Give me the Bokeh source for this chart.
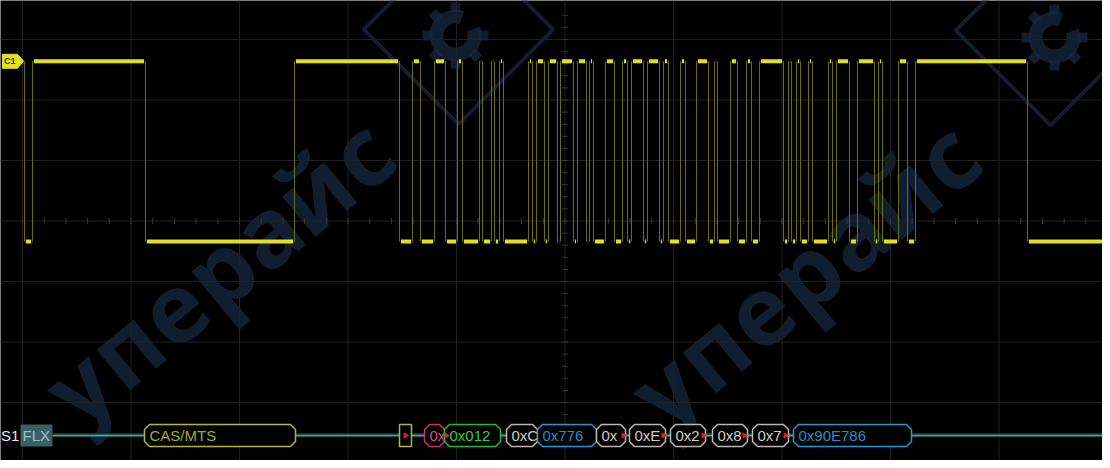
import numpy as np
from bokeh.plotting import figure
from bokeh.models import Range1d
from bokeh.core.properties import value
from bokeh.embed import file_html
from bokeh.resources import INLINE

# ---------------- data ----------------
# Oscilloscope capture of a FlexRay frame. x: sample index, y: volts (1 V/div)
EDGE_SAMPLES = [32, 40, 153, 302, 407, 420, 428, 442, 453, 465, 470, 487, 490, 499,
                502, 507, 511, 536, 540, 544, 552, 556, 565, 568, 581, 585, 594, 597,
                601, 613, 622, 630, 635, 639, 651, 655, 667, 671, 676, 688, 693, 704,
                716, 722, 725, 738, 745, 754, 759, 767, 791, 796, 799, 804, 808, 816,
                820, 836, 840, 844, 857, 865, 882, 886, 890, 906, 915, 923, 1035]
START_SAMPLE = 30
END_SAMPLE = 1110
INITIAL_LEVEL = 1          # 1 = high, 0 = low
HIGH_V = 2.64
LOW_V = -0.34

# decoded FlexRay fields
DEC_LABELS = ["CAS/MTS", "", "0x", "0x012", "0xC", "0x776", "0x", "0xE", "0x2",
              "0x8", "0x7", "0x90E786"]
DEC_START = [152, 407, 432, 452, 514, 545, 604, 637, 678, 720, 760, 801]
DEC_END = [303, 419, 452, 508, 545, 604, 633, 673, 713, 755, 796, 919]
DEC_KIND = ["cas", "tss", "ind", "id", "len", "hcrc", "data", "data", "data",
            "data", "data", "fcrc"]
DEC_MARKS = [413, 454, 631, 671, 711, 752, 793]
CHANNEL_LABEL = "S1"
PROTOCOL_LABEL = "FLX"
SCOPE_CHANNEL = "C1"
WATERMARK = "уперайс"

# ---------------- display geometry / styles ----------------
W, H = 1102, 460
X0, X1 = 8, 1110
PX_PER_V = 60.5
Y_TOP = (228.5 - 8) / PX_PER_V
Y_BOT = (228.5 - 468) / PX_PER_V
DIV = 108.5
GRID_X0 = 30
CENTER_X = GRID_X0 + 5 * DIV


def vpx(px):
    return (228.5 - px) / PX_PER_V


ROW_V = vpx(443)
BOX_H = 11 / PX_PER_V
CH = 5
CHV = 5 / PX_PER_V

p = figure(width=W, height=H, output_backend="svg", toolbar_location=None,
           x_range=Range1d(X0, X1), y_range=Range1d(Y_BOT, Y_TOP),
           background_fill_color="black", border_fill_color="black",
           min_border=0, outline_line_color=None)
p.axis.visible = False
p.grid.visible = False

# ---- watermark (behind everything), laid out letter by letter ----
WM_COL = "#172840"
WM_A = 0.75
WM_ANG = 0.69
STEP = 61
for cx, cy in [(226, 276), (812, 279)]:
    n = len(WATERMARK)
    k = np.arange(n) - 3
    lx = cx + k * STEP * np.cos(WM_ANG)
    ly = cy - k * STEP * np.sin(WM_ANG)
    p.text(x=lx, y=[vpx(v) for v in ly], text=list(WATERMARK), angle=WM_ANG,
           text_font=value("Open Sans"), text_font_style="bold",
           text_font_size="96px", text_color=WM_COL, text_alpha=WM_A,
           text_align="center", text_baseline="middle")
for gx, gy, dx, dy in [(463, 43, 466, 37), (1062, 45, 1058, 38)]:
    p.rect(x=[dx], y=[vpx(dy)], width=134, height=134, angle=np.pi / 4,
           width_units="screen", height_units="screen", fill_alpha=0,
           line_color=WM_COL, line_width=4, line_alpha=WM_A)
    p.annular_wedge(x=[gx], y=[vpx(gy)], inner_radius=12, outer_radius=26,
                    inner_radius_units="screen", outer_radius_units="screen",
                    start_angle=np.deg2rad(70), end_angle=np.deg2rad(20),
                    fill_color=WM_COL, fill_alpha=WM_A, line_alpha=0)
    ang = np.deg2rad(np.arange(90, 360 + 90, 45))
    ang = ang[(np.rad2deg(ang) % 360 > 75) | (np.rad2deg(ang) % 360 < 15)]
    tx = gx + 28 * np.cos(ang)
    ty = gy - 28 * np.sin(ang)
    p.rect(x=tx, y=[vpx(t) for t in ty], width=10, height=10, angle=ang,
           width_units="screen", height_units="screen",
           fill_color=WM_COL, fill_alpha=WM_A, line_alpha=0)

# ---- graticule ----
GRID_COL = "#202020"
vx = [GRID_X0 + k * DIV for k in range(10)]
p.segment(x0=vx, y0=[Y_BOT] * len(vx), x1=vx, y1=[Y_TOP] * len(vx),
          line_color=GRID_COL, line_width=1)
hv = list(range(-3, 4))
p.segment(x0=[X0] * len(hv), y0=hv, x1=[X1] * len(hv), y1=hv,
          line_color=GRID_COL, line_width=1)
tick_x = np.arange(GRID_X0, X1, DIV / 5)
p.segment(x0=tick_x, y0=[-3 / PX_PER_V] * len(tick_x), x1=tick_x,
          y1=[3 / PX_PER_V] * len(tick_x), line_color="#363636", line_width=1)
tick_y = np.arange(-3.6, 3.6, 0.2)
p.segment(x0=[CENTER_X - 3] * len(tick_y), y0=tick_y, x1=[CENTER_X + 3] * len(tick_y),
          y1=tick_y, line_color="#363636", line_width=1)

# ---- waveform ----
edges = np.array(EDGE_SAMPLES, dtype=float)
bounds = np.concatenate([[START_SAMPLE], edges, [END_SAMPLE]])
levels = [(INITIAL_LEVEL + i) % 2 for i in range(len(bounds) - 1)]
lv = [HIGH_V if (l == 1) else LOW_V for l in levels]
# thin transition lines
p.segment(x0=edges, y0=[LOW_V] * len(edges), x1=edges, y1=[HIGH_V] * len(edges),
          line_color="#76761a", line_width=1, line_alpha=0.9)
# thick level segments
g = 1.4
sx0 = bounds[:-1] + np.where(np.arange(len(lv)) == 0, 0, g)
sx1 = bounds[1:] - np.where(np.arange(len(lv)) == len(lv) - 1, 0, g)
p.segment(x0=sx0, y0=lv, x1=sx1, y1=lv, line_color="#e0e01e", line_width=4)

# channel marker
mx = [10, 25, 31, 25, 10]
my = [HIGH_V + 7 / PX_PER_V, HIGH_V + 7 / PX_PER_V, HIGH_V, HIGH_V - 7 / PX_PER_V,
      HIGH_V - 7 / PX_PER_V]
p.patch(x=mx, y=my, fill_color="#e2e21e", line_color="#e2e21e")
p.text(x=[11.5], y=[HIGH_V], text=[SCOPE_CHANNEL], text_font=value("Liberation Sans"),
       text_font_size="9px", text_font_style="bold", text_color="#3a3a00",
       text_baseline="middle", text_align="left")

# ---- decode row ----
p.segment(x0=[60], y0=[ROW_V + 2 / PX_PER_V], x1=[X1], y1=[ROW_V + 2 / PX_PER_V],
          line_color="#4a1028", line_width=1)
p.segment(x0=[60], y0=[ROW_V], x1=[X1], y1=[ROW_V], line_color="#3aa8a8", line_width=2)

KIND_STYLE = {
    "cas": ("#b4b43c", "#a2aa34"),
    "tss": ("#b4b43c", "#a2aa34"),
    "ind": ("#c8306e", "#d84a8a"),
    "id": ("#24b83e", "#3cc84c"),
    "len": ("#bdb6ae", "#d2cbc3"),
    "hcrc": ("#2896c8", "#2a8cc0"),
    "data": ("#bdb6ae", "#d2cbc3"),
    "fcrc": ("#2896c8", "#2a8cc0"),
}
for lab, s, e, k in zip(DEC_LABELS, DEC_START, DEC_END, DEC_KIND):
    lc, tc = KIND_STYLE[k]
    if k == "tss":
        xs = [s, e, e, s]
        ys = [ROW_V + BOX_H, ROW_V + BOX_H, ROW_V - BOX_H, ROW_V - BOX_H]
    else:
        xs = [s, s + CH, e - CH, e, e, e - CH, s + CH, s]
        ys = [ROW_V + BOX_H - CHV, ROW_V + BOX_H, ROW_V + BOX_H, ROW_V + BOX_H - CHV,
              ROW_V - BOX_H + CHV, ROW_V - BOX_H, ROW_V - BOX_H, ROW_V - BOX_H + CHV]
    p.patch(x=xs, y=ys, fill_color="black", line_color=lc, line_width=1.5)
    if lab:
        p.text(x=[s + 5], y=[ROW_V], text=[lab], text_font=value("Liberation Sans"),
               text_font_size="15px", text_color=tc, text_baseline="middle",
               text_align="left")

p.scatter(x=DEC_MARKS, y=[ROW_V] * len(DEC_MARKS), marker="triangle", angle=-np.pi / 2,
          size=5, fill_color="#e02020", line_color="#e02020")

# channel / protocol label
p.text(x=[8.5], y=[ROW_V], text=[CHANNEL_LABEL], text_font=value("Liberation Sans"),
       text_font_size="15px", text_color="#e8e8e8", text_baseline="middle",
       text_align="left")
p.quad(left=[28], right=[60], top=[vpx(432)], bottom=[vpx(454)],
       fill_color="#3a5f66", line_alpha=0)
p.text(x=[30], y=[ROW_V], text=[PROTOCOL_LABEL], text_font=value("Liberation Sans"),
       text_font_size="15px", text_color="#9cc0c8", text_baseline="middle",
       text_align="left")

open("out.html", "w").write(file_html(p, INLINE))
